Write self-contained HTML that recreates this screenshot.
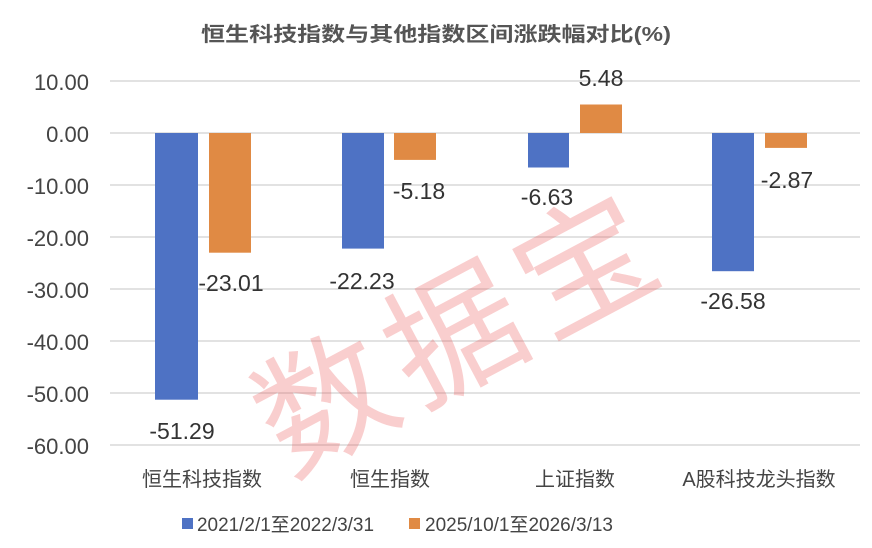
<!DOCTYPE html>
<html><head><meta charset="utf-8"><style>body{margin:0;background:#fff}svg{display:block}</style></head><body>
<svg width="872" height="548" xmlns="http://www.w3.org/2000/svg" font-family="Liberation Sans, Noto Sans CJK SC, sans-serif">
<rect width="872" height="548" fill="#fff"/>
<text x="436" y="41" text-anchor="middle" font-size="20" font-weight="bold" fill="#555" textLength="470" lengthAdjust="spacingAndGlyphs">恒生科技指数与其他指数区间涨跌幅对比(%)</text>
<g stroke="#d9d9d9" stroke-width="1.5">
<line x1="110" x2="860" y1="81" y2="81"/><line x1="110" x2="860" y1="133" y2="133"/>
<line x1="110" x2="860" y1="185" y2="185"/><line x1="110" x2="860" y1="237" y2="237"/>
<line x1="110" x2="860" y1="289" y2="289"/><line x1="110" x2="860" y1="341" y2="341"/>
<line x1="110" x2="860" y1="393" y2="393"/><line x1="110" x2="860" y1="445" y2="445"/>
</g>
<g font-size="22" fill="#444" text-anchor="end">
<text x="89" y="90">10.00</text><text x="89" y="142">0.00</text><text x="89" y="194">-10.00</text>
<text x="89" y="246">-20.00</text><text x="89" y="298">-30.00</text><text x="89" y="350">-40.00</text>
<text x="89" y="402">-50.00</text><text x="89" y="454">-60.00</text>
</g>
<g fill="#4e72c4">
<rect x="155" y="133" width="43" height="266.7"/>
<rect x="342" y="133" width="42" height="115.6"/>
<rect x="528" y="133" width="41" height="34.5"/>
<rect x="712" y="133" width="42" height="138.2"/>
</g>
<g fill="#e08a44">
<rect x="209" y="133" width="42" height="119.7"/>
<rect x="394" y="133" width="42" height="26.9"/>
<rect x="580" y="104.5" width="42" height="28.5"/>
<rect x="765" y="133" width="42" height="14.9"/>
</g>
<text x="455" y="322" font-size="135" fill="#e85050" fill-opacity="0.28" transform="rotate(-28 455 322)" text-anchor="middle" dominant-baseline="central" font-family="Noto Sans CJK SC, sans-serif" letter-spacing="12">数据宝</text>
<g font-size="23" fill="#333" text-anchor="middle">
<text x="182" y="439">-51.29</text><text x="231" y="291">-23.01</text>
<text x="362" y="289">-22.23</text><text x="419" y="199">-5.18</text>
<text x="547" y="205">-6.63</text><text x="601" y="86">5.48</text>
<text x="733" y="309">-26.58</text><text x="787" y="188">-2.87</text>
</g>
<g font-size="20" fill="#444" text-anchor="middle">
<text x="202" y="486">恒生科技指数</text><text x="390" y="486">恒生指数</text>
<text x="575" y="486">上证指数</text><text x="759" y="486">A股科技龙头指数</text>
</g>
<rect x="182" y="518" width="11" height="11" fill="#4e72c4"/>
<text x="197" y="531" font-size="19" fill="#444" textLength="177" lengthAdjust="spacingAndGlyphs">2021/2/1至2022/3/31</text>
<rect x="409" y="518" width="11" height="11" fill="#e08a44"/>
<text x="425" y="531" font-size="19" fill="#444" textLength="188" lengthAdjust="spacingAndGlyphs">2025/10/1至2026/3/13</text>
</svg>
</body></html>
